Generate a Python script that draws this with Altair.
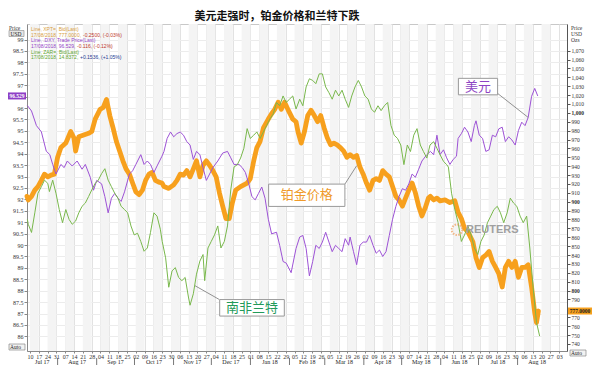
import altair as alt
import pandas as pd

# ---------------- data ----------------
BASE = "2017-07-10"   # day 0 of the offsets below

pt_days = [-2.3, -1.3, 1.3, 3.9, 6.4, 9.1, 11.6, 14.2, 16.8, 19.4,
           22.0, 24.6, 28.5, 32.4, 34.9, 36.3, 38.8, 42.7, 46.6, 49.1,
           51.8, 55.7, 58.2, 60.8, 63.4, 66.0, 68.6, 71.2, 73.8, 76.3,
           79.0, 81.5, 84.1, 86.7, 89.3, 91.8, 94.5, 97.0, 99.6, 102.3,
           104.8, 106.4, 110.2, 114.1, 116.7, 119.3, 121.9, 124.5, 127.1, 129.7,
           132.2, 134.9, 137.4, 140.0, 142.6, 145.2, 147.8, 150.4, 153.0, 155.6,
           158.2, 160.7, 163.3, 167.2, 169.8, 172.4, 174.9, 177.6, 180.1, 182.7,
           185.3, 189.2, 191.8, 194.3, 197.0, 199.5, 202.1, 204.7, 208.6, 211.2,
           212.7, 215.3, 217.9, 220.5, 223.1, 225.7, 228.3, 230.8, 233.5, 236.0,
           238.6, 241.2, 243.8, 246.4, 249.0, 251.6, 254.1, 256.8, 259.3, 261.9,
           264.5, 267.1, 269.6, 272.3, 274.8, 277.4, 280.0, 282.6, 285.2, 287.8,
           290.4, 292.9, 295.6, 298.1, 300.7, 303.3, 305.9, 308.5, 311.1, 313.7,
           316.2, 317.8, 320.4, 323.0, 325.5, 329.4, 333.3, 337.2, 339.8, 342.4,
           344.9, 347.6, 351.5, 354.0, 356.6, 359.2, 361.8, 364.4, 367.0, 369.6,
           372.1, 374.8, 377.3, 379.9, 382.5, 385.1, 387.7, 390.3, 392.9, 395.4,
           398.1, 400.6, 402.0, 403.5]
pt_vals = [906, 902, 906, 913, 917, 924, 931, 928, 930, 931,
           950, 961, 966, 979, 972, 957, 973, 975, 977, 979,
           993, 1004, 1006, 1015, 997, 983, 968, 957, 946, 937,
           931, 921, 911, 908, 913, 924, 931, 933, 924, 922,
           921, 917, 915, 919, 924, 931, 930, 935, 928, 937,
           946, 928, 941, 946, 941, 935, 928, 910, 895, 881,
           881, 899, 913, 917, 919, 921, 926, 946, 961, 968,
           983, 993, 999, 1004, 1012, 1004, 1012, 1004, 993, 990,
           979, 966, 979, 997, 1003, 997, 990, 997, 983, 972,
           964, 966, 964, 961, 957, 950, 953, 950, 952, 939,
           931, 921, 913, 924, 926, 924, 935, 931, 928, 917,
           906, 902, 895, 904, 913, 921, 910, 895, 884, 893,
           904, 906, 902, 904, 901, 902, 899, 901, 888, 881,
           870, 866, 855, 837, 826, 837, 840, 844, 833, 826,
           819, 804, 826, 833, 826, 833, 815, 826, 826, 829,
           804, 775, 764, 777]

dxy_days = [-2.0, 1.3, 5.2, 9.1, 13.0, 15.8, 18.1, 20.7, 24.6, 27.2,
            29.7, 33.6, 37.5, 41.4, 44.0, 47.9, 50.5, 53.0, 56.9, 59.5,
            62.1, 64.7, 67.3, 69.9, 72.4, 75.1, 79.0, 81.5, 84.1, 88.0,
            90.6, 93.2, 95.7, 98.4, 100.9, 104.8, 106.4, 108.9, 111.6, 114.1,
            116.7, 119.3, 121.9, 124.5, 127.1, 129.7, 132.2, 134.9, 137.4, 140.0,
            142.6, 145.2, 149.1, 153.0, 156.8, 159.4, 162.0, 165.9, 168.5, 171.0,
            173.7, 176.2, 178.8, 181.4, 184.0, 186.6, 189.2, 191.8, 195.7, 198.2,
            200.9, 203.4, 207.3, 211.2, 214.1, 216.6, 219.2, 221.8, 224.4, 226.9,
            229.6, 232.1, 234.7, 237.3, 239.9, 242.5, 245.1, 247.7, 250.2, 252.9,
            254.1, 256.8, 259.3, 261.9, 264.5, 267.1, 269.6, 272.3, 274.8, 277.4,
            280.0, 282.6, 285.2, 287.8, 290.4, 292.9, 295.6, 298.1, 300.7, 303.3,
            305.9, 308.5, 311.1, 315.0, 317.8, 320.4, 323.0, 325.5, 328.2, 330.7,
            333.3, 335.9, 338.5, 339.8, 342.4, 344.9, 347.6, 350.2, 352.7, 354.0,
            356.6, 359.2, 361.8, 364.4, 367.0, 369.6, 372.1, 374.8, 377.3, 379.9,
            382.5, 385.1, 387.7, 390.3, 392.9, 395.4, 398.1, 400.6, 403.0]
dxy_vals = [96.11, 95.87, 95.23, 94.96, 94.11, 93.96, 93.53, 93.11, 93.53, 93.39,
            93.68, 93.46, 93.68, 93.32, 93.53, 92.97, 92.40, 92.83, 92.68, 92.12,
            91.41, 92.05, 92.26, 92.05, 91.91, 92.33, 93.11, 93.25, 93.53, 93.96,
            93.53, 93.68, 93.53, 93.18, 93.46, 93.89, 94.10, 94.67, 94.95, 94.74,
            94.88, 94.95, 94.81, 94.53, 94.38, 93.75, 94.10, 93.96, 93.39, 92.83,
            93.11, 93.39, 93.68, 94.03, 94.10, 93.82, 93.53, 93.53, 93.39, 93.18,
            92.68, 92.12, 91.98, 92.26, 92.54, 92.05, 91.13, 90.49, 90.56, 89.99,
            89.28, 89.21, 88.79, 89.85, 90.35, 90.42, 89.85, 88.65, 89.28, 89.99,
            89.85, 90.13, 90.56, 90.13, 89.71, 89.99, 89.85, 89.71, 90.28, 89.99,
            90.35, 89.71, 89.14, 89.99, 90.13, 90.13, 90.42, 89.99, 89.64, 89.78,
            89.50, 89.71, 90.42, 91.13, 91.69, 92.12, 92.47, 92.40, 92.68, 93.11,
            92.97, 93.32, 93.68, 93.96, 94.10, 93.96, 94.81, 93.96, 94.17, 93.82,
            93.53, 93.75, 93.89, 94.67, 94.88, 95.16, 94.95, 94.53, 95.23, 95.44,
            94.81, 94.67, 94.10, 94.17, 94.81, 94.74, 95.09, 95.16, 94.53, 94.74,
            94.60, 94.38, 95.02, 95.38, 95.23, 95.59, 96.51, 96.86, 96.529]

zar_days = [-2.0, -1.3, 1.3, 3.9, 6.4, 9.1, 11.6, 14.2, 15.5, 18.1,
            20.7, 23.3, 25.9, 28.5, 31.1, 33.6, 36.3, 38.8, 41.4, 44.0,
            46.6, 49.1, 51.8, 54.3, 56.9, 59.5, 62.1, 64.7, 67.3, 69.9,
            72.4, 75.1, 77.6, 80.2, 82.8, 85.4, 88.0, 90.6, 93.2, 95.7,
            98.4, 100.9, 103.5, 105.0, 107.7, 110.2, 112.8, 115.4, 118.0, 120.6,
            123.2, 125.8, 127.1, 129.7, 132.2, 134.9, 137.4, 138.7, 141.3, 143.9,
            146.5, 149.1, 151.6, 154.3, 156.8, 159.4, 162.0, 164.6, 167.2, 169.8,
            172.4, 174.9, 177.6, 180.1, 182.7, 185.3, 187.9, 190.5, 193.1, 195.7,
            198.2, 200.9, 203.4, 206.0, 208.6, 211.2, 214.1, 216.6, 219.2, 221.8,
            224.4, 226.9, 229.6, 232.1, 234.7, 237.3, 239.9, 242.5, 245.1, 247.7,
            250.2, 252.9, 255.4, 258.0, 260.6, 263.2, 265.8, 268.4, 271.0, 273.5,
            276.2, 278.7, 281.3, 283.9, 286.5, 289.1, 291.7, 294.3, 296.8, 299.5,
            302.0, 304.6, 307.2, 309.8, 312.3, 315.0, 317.5, 320.4, 323.0, 325.5,
            328.2, 330.7, 332.1, 334.6, 337.2, 339.8, 342.4, 344.9, 347.6, 350.2,
            352.7, 355.4, 357.9, 360.5, 363.1, 365.7, 368.2, 370.9, 373.4, 376.0,
            378.7, 381.2, 383.8, 386.4, 389.0, 391.5, 394.2, 396.7, 399.3, 402.0,
            404.5]
zar_vals = [13.41, 13.47, 13.57, 13.33, 13.09, 13.01, 12.93, 12.97, 13.07, 12.93,
            13.09, 13.29, 13.45, 13.29, 13.41, 13.47, 13.43, 13.33, 13.25, 13.21,
            13.13, 13.05, 12.97, 12.93, 12.85, 12.79, 12.93, 13.01, 13.09, 13.15,
            13.25, 13.29, 13.33, 13.49, 13.60, 13.58, 13.68, 13.80, 13.76, 13.57,
            13.33, 13.37, 13.53, 13.68, 13.88, 14.24, 14.04, 14.00, 14.12, 14.16,
            14.12, 14.36, 14.46, 14.32, 14.08, 13.92, 13.84, 14.16, 13.76, 13.68,
            13.60, 13.49, 13.76, 13.68, 13.49, 13.05, 12.77, 12.74, 12.66, 12.54,
            12.30, 12.42, 12.38, 12.34, 12.42, 12.34, 12.26, 12.18, 12.12, 11.98,
            12.02, 11.90, 11.98, 11.94, 11.90, 12.06, 11.94, 12.02, 11.79, 11.69,
            11.71, 11.75, 11.63, 11.63, 11.79, 11.86, 11.94, 11.83, 11.90, 11.83,
            11.94, 12.04, 11.90, 11.79, 11.71, 11.79, 11.90, 11.94, 12.06, 12.10,
            12.02, 12.08, 12.02, 11.98, 12.26, 12.38, 12.42, 12.50, 12.74, 12.50,
            12.58, 12.38, 12.30, 12.50, 12.58, 12.66, 12.50, 12.46, 12.54, 12.62,
            12.70, 12.74, 12.77, 13.09, 13.29, 13.45, 13.68, 13.60, 13.49, 13.60,
            13.76, 13.84, 13.68, 13.60, 13.45, 13.37, 13.29, 13.25, 13.33, 13.45,
            13.33, 13.15, 13.21, 13.25, 13.37, 13.45, 13.37, 13.76, 14.24, 14.67,
            14.8372]

last_pt = [777.0]
last_dxy = [96.529]

dxy_ticks = [86 + 0.5 * i for i in range(27)]
pt_ticks = list(range(740, 1071, 10))

title_text = "美元走强时，铂金价格和兰特下跌"
legend_rows = [
    ("Line, XPT=, Bid(Last)", "", "#d8a040", ""),
    ("17/08/2018, 777.0000,", "-0.2500, (-0.03%)", "#d8a040", "#c0392b"),
    ("Line, .DXY, Trade Price(Last)", "", "#9444c8", ""),
    ("17/08/2018, 96.529,", "-0.116, (-0.12%)", "#9444c8", "#c0392b"),
    ("Line, ZAR=, Bid(Last)", "", "#5fa630", ""),
    ("17/08/2018, 14.8372,", "+0.1536, (+1.05%)", "#5fa630", "#1f3a93"),
]

# ---------------- layout ----------------
W, H = 540, 327
ORANGE = "#f7a01d"
PURPLE = "#9d52d6"
GREEN = "#79b84c"
FONT = "Liberation Sans"
NARROW = "Liberation Sans Narrow"
CJK = "Noto Sans CJK SC"
SY = H / 337.0   # vertical scale from reference plot pixels


def series_df(days, vals):
    d = pd.Timestamp(BASE) + pd.to_timedelta(days, unit="D")
    return pd.DataFrame({"date": d, "v": vals})


pt_df = series_df(pt_days, pt_vals)
dxy_df = series_df(dxy_days, dxy_vals)
zar_df = series_df(zar_days, zar_vals)


def dt(ts):
    ts = pd.Timestamp(ts)
    return alt.DateTime(year=ts.year, month=ts.month, date=ts.day,
                        hours=ts.hour, minutes=ts.minute)


x_scale = alt.Scale(domain=[dt("2017-07-07 17:00"), dt("2018-09-09 05:00")])
mondays = pd.date_range("2017-07-10", "2018-09-03", freq="7D")
x_axis = alt.Axis(values=[dt(m) for m in mondays], format="%d", title=None,
                  labelFontSize=6, labelFont=NARROW, labelColor="#333",
                  tickSize=2, tickColor="#888", labelPadding=0,
                  domainColor="#888", grid=True, gridColor="#e2e2e2",
                  labelOverlap=False, labelFlush=False, labelAngle=0)


def X(field="date"):
    return alt.X(f"{field}:T", scale=x_scale, axis=x_axis)


one = pd.DataFrame({"k": [0]})

# alternating weekly bands
band_df = pd.DataFrame({"start": mondays[:-1:2], "end": mondays[1::2]})
bands = alt.Chart(band_df).mark_rect(color="#f4f4f4").encode(
    x=X("start"), x2="end", y=alt.value(0), y2=alt.value(H))

# platinum (right axis)
Y_pt = alt.Y("v:Q", scale=alt.Scale(domain=[732, 1100], nice=False, zero=False),
             axis=alt.Axis(orient="right", values=pt_ticks, format=",d", title=None,
                           labelFontSize=5.5, labelFont=NARROW, labelColor="#333",
                           labelFontWeight={"expr": "datum.value % 100 === 0 ? 'bold' : 'normal'"},
                           labelOpacity={"expr": "abs(datum.value - 777) < 5 ? 0 : 1"},
                           tickSize=3, tickColor="#555", domainColor="#555",
                           labelPadding=1, grid=False, labelOverlap=False,
                           labelFlush=False))
pt_line = alt.Chart(pt_df).mark_line(color=ORANGE, strokeWidth=4.8,
                                     strokeJoin="round", strokeCap="round").encode(x=X(), y=Y_pt)
pt_tagdf = pd.DataFrame({"v": last_pt})
pt_tag = alt.Chart(pt_tagdf).mark_tick(color=ORANGE, size=24, thickness=7,
                                       orient="horizontal", opacity=1).encode(
    x=alt.value(553), y=Y_pt)
pt_tagtxt = alt.Chart(pt_tagdf).mark_text(fontSize=5.5, font=NARROW, color="#222",
                                          fontWeight="bold").encode(
    x=alt.value(553), y=Y_pt, text=alt.Text("v:Q", format=".4f"))
pt_group = alt.layer(pt_line, pt_tag, pt_tagtxt)

# dollar index (left axis)
Y_dxy = alt.Y("v:Q", scale=alt.Scale(domain=[85.36, 99.68], nice=False, zero=False),
              axis=alt.Axis(orient="left", values=dxy_ticks, format="~g", title=None,
                            labelFontSize=6, labelFont=NARROW, labelColor="#333",
                            labelOpacity={"expr": "abs(datum.value - 96.529) < 0.2 ? 0 : 1"},
                            tickSize=3, tickColor="#888", domainColor="#888",
                            labelPadding=1, grid=True, gridColor="#ececec",
                            labelOverlap=False, labelFlush=False))
dxy_line = alt.Chart(dxy_df).mark_line(color=PURPLE, strokeWidth=1).encode(x=X(), y=Y_dxy)
dxy_tagdf = pd.DataFrame({"v": last_dxy})
dxy_tag = alt.Chart(dxy_tagdf).mark_tick(color="#8e3fc6", size=18, thickness=7,
                                         orient="horizontal", opacity=1).encode(
    x=alt.value(-10), y=Y_dxy)
dxy_tagtxt = alt.Chart(dxy_tagdf).mark_text(fontSize=5.5, font=NARROW, color="white",
                                            fontWeight="bold").encode(
    x=alt.value(-10), y=Y_dxy, text=alt.Text("v:Q", format=".3f"))
dxy_group = alt.layer(dxy_line, dxy_tag, dxy_tagtxt)

# rand (hidden, inverted scale)
Y_zar = alt.Y("v:Q", scale=alt.Scale(domain=[11.02, 15.02], reverse=True, nice=False,
                                     zero=False), axis=None)
zar_line = alt.Chart(zar_df).mark_line(color=GREEN, strokeWidth=1).encode(x=X(), y=Y_zar)


# ---------------- annotations ----------------
def text(t, x, y, color="#333", size=6, font=FONT, weight="normal", align="left",
         baseline="middle"):
    return alt.Chart(one).mark_text(text=t, color=color, fontSize=size, font=font,
                                    fontWeight=weight, align=align, baseline=baseline).encode(
        x=alt.value(x), y=alt.value(y))


def box(x1, x2, y1, y2, fill="white", stroke="#999", sw=1):
    return alt.Chart(one).mark_rect(fill=fill, stroke=stroke, strokeWidth=sw).encode(
        x=alt.value(x1), x2=alt.value(x2), y=alt.value(y1), y2=alt.value(y2))


def seg(x1, y1, x2, y2, color="#777"):
    return alt.Chart(one).mark_rule(color=color, strokeWidth=0.8).encode(
        x=alt.value(x1), x2=alt.value(x2), y=alt.value(y1), y2=alt.value(y2))


def ry(v):
    """reference plot-pixel row -> this chart's plot-pixel row"""
    return v * SY


ann = []
ann.append(text(title_text, 250, -7, color="#111", size=11, font=CJK, weight="bold",
                align="center"))
# legend block
ys = [5.6, 11.1, 16.9, 22.5, 28.4, 34.5]
x2s = [0, 56, 0, 50, 0, 53]
for (a, b, ca, cb), yy, xb in zip(legend_rows, ys, x2s):
    ann.append(text(a, 4, ry(yy), color=ca, size=5, font=FONT))
    if b:
        ann.append(text(b, xb, ry(yy), color=cb, size=5, font=FONT))

# labelled boxes
ann += [seg(470.3, ry(71.3), 501.2, ry(96.3)),
        box(431.4, 470.6, ry(56), ry(73)),
        text("美元", 451, ry(64.8), color="#8e44c4", size=13, font=CJK, align="center"),
        seg(317.9, ry(165), 329.7, ry(146)),
        box(241.6, 317.9, ry(165), ry(188)),
        text("铂金价格", 279.7, ry(176.5), color="#ef9a2a", size=13, font=CJK, align="center"),
        seg(192.4, ry(284), 168.0, ry(269.7)),
        box(192.7, 257.3, ry(284), ry(301)),
        text("南非兰特", 225, ry(292.5), color="#239a5a", size=13, font=CJK, align="center")]

# watermark
ann.append(alt.Chart(one).mark_point(shape="circle", size=110, filled=False,
                                     color="#f0a060", strokeWidth=2,
                                     strokeDash=[1.5, 1.2]).encode(
    x=alt.value(430), y=alt.value(ry(212))))
ann.append(text("REUTERS", 439, ry(212), color="#a0a0a0", size=11, font=FONT,
                weight="bold"))

# axis headers and corner boxes
ann += [text("Price", -18, 3.5, color="#333", size=5.5, font=NARROW),
        box(-18, -3, 6.5, 12.5, fill="#e6e6e6", stroke="#888", sw=0.6),
        text("USD", -16.5, 9.5, color="#222", size=5.5, font=NARROW),
        text("Price", 544, 3.5, color="#333", size=5.5, font=NARROW),
        text("USD", 544, 9.8, color="#333", size=5.5, font=NARROW),
        text("Ozs", 544, 16, color="#333", size=5.5, font=NARROW),
        box(-18, -2, H - 7, H - 1, fill="#f2f2f2", stroke="#777", sw=0.6),
        text("Auto", -17, H - 4, color="#222", size=5.5, font=NARROW),
        box(543, 559, H - 1, H + 5, fill="#f2f2f2", stroke="#777", sw=0.6),
        text("Auto", 544, H + 2, color="#222", size=5.5, font=NARROW)]

# month row under the day labels
month_starts = pd.date_range("2017-07-01", "2018-09-01", freq="MS")
lo, hi = pd.Timestamp("2017-07-07 17:00"), pd.Timestamp("2018-09-09 05:00")
mids, names = [], []
for a, b in zip(month_starts[:-1], month_starts[1:]):
    a2, b2 = max(a, lo), min(b, hi)
    mids.append(a2 + (b2 - a2) / 2)
    names.append(a.strftime("%b %y"))
month_df = pd.DataFrame({"mid": mids, "name": names})
sep_df = pd.DataFrame({"start": month_starts[1:-1]})
months = alt.Chart(month_df).mark_text(fontSize=6, font=NARROW, color="#222",
                                       baseline="middle").encode(
    x=X("mid"), y=alt.value(H + 11), text="name:N")
seps = alt.Chart(sep_df).mark_rule(color="#555", strokeWidth=0.8).encode(
    x=X("start"), y=alt.value(H + 7), y2=alt.value(H + 14))

chart = alt.layer(bands, pt_group, dxy_group, zar_line, months, seps, *ann).resolve_scale(
    y="independent").properties(
    width=W, height=H,
    padding={"left": 19, "top": 16, "right": 25, "bottom": 15},
    autosize=alt.AutoSizeParams(type="none"),
    background="white",
).configure_view(stroke="#c8c8c8", strokeWidth=1)

chart.save("out.html", embed_options={"renderer": "svg", "actions": False})
